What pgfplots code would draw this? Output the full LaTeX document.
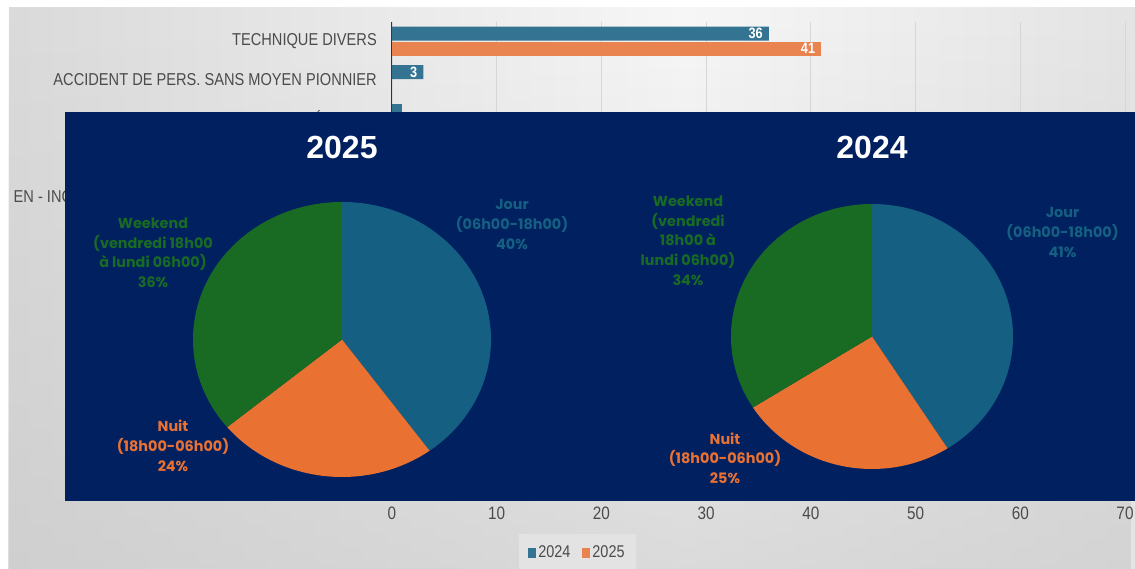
\documentclass[border=0pt]{standalone}
\usepackage{pgfplots}
\pgfplotsset{compat=1.18}
\usepackage{pgfplotstable}
\usepackage{fontspec}
\setmainfont{Liberation Sans}
\newfontfamily\narrowfont[FakeStretch=0.85]{Liberation Sans}
\newfontfamily\popfont{Poppins}
\usetikzlibrary{fadings}

\definecolor{panel}{RGB}{0,32,96}
\definecolor{jour}{RGB}{21,96,130}
\definecolor{nuit}{RGB}{233,113,50}
\definecolor{weekend}{RGB}{25,107,36}
\definecolor{bara}{RGB}{52,116,146}
\definecolor{barb}{RGB}{233,131,79}
\definecolor{lbl}{RGB}{75,75,75}
\definecolor{gridc}{RGB}{214,214,214}
\definecolor{bgl}{RGB}{195,195,195}
\definecolor{bgm}{RGB}{247,247,247}
\definecolor{bgr}{RGB}{205,205,205}
\definecolor{bgb}{RGB}{200,200,200}
\pgfdeclarehorizontalshading{bgshade}{100bp}{color(0bp)=(bgl); color(55bp)=(bgm); color(100bp)=(bgr)}

% pies, percent per slice (clockwise from 12 o'clock)
\pgfplotstableread{
slice value
Jour 40
Nuit 24
Weekend 36
}\pieA
\pgfplotstableread{
slice value
Jour 41
Nuit 25
Weekend 34
}\pieB

% bars that are not hidden by the panel
\pgfplotstableread{
cat val
0 36
1 3
}\barsA
\pgfplotstableread{
cat val
2 1
}\barsAhidden
\pgfplotstableread{
cat val
0 41
}\barsB

\pgfplotstablegetelem{0}{value}\of\pieA \pgfmathsetmacro\Aone{90-3.6*\pgfplotsretval}
\pgfplotstablegetelem{1}{value}\of\pieA \pgfmathsetmacro\Atwo{\Aone-3.6*\pgfplotsretval}
\pgfplotstablegetelem{0}{value}\of\pieB \pgfmathsetmacro\Bone{90-3.6*\pgfplotsretval}
\pgfplotstablegetelem{1}{value}\of\pieB \pgfmathsetmacro\Btwo{\Bone-3.6*\pgfplotsretval}

\begin{document}
\begin{tikzpicture}
\useasboundingbox (0pt,0pt) rectangle (1135pt,569pt);
\fill[white] (0pt,0pt) rectangle (1135pt,569pt);
\shade[shading=bgshade] (9pt,0pt) rectangle (1135pt,561pt);
\fill[bgb, opacity=0.6, path fading=north] (9pt,0pt) rectangle (1135pt,561pt);

% bar chart (background)
\begin{axis}[
  at={(392pt,70pt)}, anchor=south west, scale only axis,
  width=733pt, height=477pt,
  xmin=0, xmax=70, ymin=-0.5, ymax=11.89, y dir=reverse,
  xbar, bar width=14pt,
  axis y line*=left, axis x line*=bottom,
  x axis line style={draw=none},
  y axis line style={draw=black!80, line width=1pt},
  xtick={0,10,...,70}, ytick={0,1,2,4},
  yticklabels={TECHNIQUE DIVERS, ACCIDENT DE PERS. SANS MOYEN PIONNIER, ACCIDENT VÉHICULE, EN - INCENDIE DANS BÂTIMENT OU DE VÉHICULES},
  major tick length=0pt,
  xmajorgrids, grid style={gridc, line width=0.8pt},
  /pgf/number format/assume math mode=true,
  yticklabel style={font=\narrowfont\fontsize{17.2}{18}\selectfont, text=lbl, inner sep=0pt, xshift=-15pt},
  xticklabel style={font=\narrowfont\fontsize{18}{18}\selectfont, text=lbl, inner sep=0pt, yshift=-8pt},
  nodes near coords style={anchor=east, text=white, font=\narrowfont\bfseries\fontsize{15}{15}\selectfont, inner sep=0pt, xshift=-6pt},
  legend style={at={(0.253,0)}, anchor=center, yshift=-53.5pt, draw=none, fill=white!89!black,
    legend columns=2, font=\narrowfont\fontsize{17}{17}\selectfont, text=lbl,
    inner xsep=9pt, inner ysep=10pt, nodes={inner sep=2pt},
    /tikz/every even column/.append style={column sep=10pt}},
  legend image code/.code={\fill[#1] (0pt,-5pt) rectangle (8pt,5pt);},
]
\addplot[fill=bara, draw=none, bar shift=7.5pt, nodes near coords] table[x=val, y=cat] {\barsA};
\addplot[fill=barb, draw=none, bar shift=-7.5pt, nodes near coords] table[x=val, y=cat] {\barsB};
\addplot[fill=bara, draw=none, bar shift=7.5pt, forget plot] table[x=val, y=cat] {\barsAhidden};
\legend{2024, 2025}
\end{axis}

% overlay panel
\fill[panel] (65pt,68pt) rectangle (1135pt,457pt);

% pie 2025
\begin{axis}[at={(193pt,92pt)}, anchor=south west, scale only axis,
  width=298pt, height=275pt, xmin=-1, xmax=1, ymin=-1, ymax=1, hide axis, clip=false]
\fill[jour] (axis cs:0,0) -- (axis cs:0,1) arc[start angle=90, end angle=\Aone, x radius=149pt, y radius=137.5pt] -- cycle;
\fill[nuit] (axis cs:0,0) -- (axis cs:{cos(\Aone)},{sin(\Aone)}) arc[start angle=\Aone, end angle=\Atwo, x radius=149pt, y radius=137.5pt] -- cycle;
\fill[weekend] (axis cs:0,0) -- (axis cs:{cos(\Atwo)},{sin(\Atwo)}) arc[start angle=\Atwo, end angle=-270, x radius=149pt, y radius=137.5pt] -- cycle;
\end{axis}

% pie 2024
\begin{axis}[at={(731pt,100pt)}, anchor=south west, scale only axis,
  width=282pt, height=265pt, xmin=-1, xmax=1, ymin=-1, ymax=1, hide axis, clip=false]
\fill[jour] (axis cs:0,0) -- (axis cs:0,1) arc[start angle=90, end angle=\Bone, x radius=141pt, y radius=132.5pt] -- cycle;
\fill[nuit] (axis cs:0,0) -- (axis cs:{cos(\Bone)},{sin(\Bone)}) arc[start angle=\Bone, end angle=\Btwo, x radius=141pt, y radius=132.5pt] -- cycle;
\fill[weekend] (axis cs:0,0) -- (axis cs:{cos(\Btwo)},{sin(\Btwo)}) arc[start angle=\Btwo, end angle=-270, x radius=141pt, y radius=132.5pt] -- cycle;
\end{axis}

% titles and slice labels
\tikzset{plbl/.style={align=center, inner sep=0pt, font=\popfont\bfseries\fontsize{14.4}{19.7}\selectfont}}
\node[text=white, font=\bfseries\fontsize{32}{32}\selectfont] at (342pt,422pt) {2025};
\node[text=white, font=\bfseries\fontsize{32}{32}\selectfont] at (872pt,421.5pt) {2024};
\node[plbl, text=jour] at (512pt,344.5pt) {Jour\\(06h00-18h00)\\40\%};
\node[plbl, text=weekend] at (153pt,316.2pt) {Weekend\\(vendredi 18h00\\à lundi 06h00)\\36\%};
\node[plbl, text=nuit] at (173pt,123pt) {Nuit\\(18h00-06h00)\\24\%};
\node[plbl, text=weekend] at (688pt,328.5pt) {Weekend\\(vendredi\\18h00 à\\lundi 06h00)\\34\%};
\node[plbl, text=jour] at (1062.5pt,336.5pt) {Jour\\(06h00-18h00)\\41\%};
\node[plbl, text=nuit] at (725pt,110.7pt) {Nuit\\(18h00-06h00)\\25\%};
\end{tikzpicture}
\end{document}
